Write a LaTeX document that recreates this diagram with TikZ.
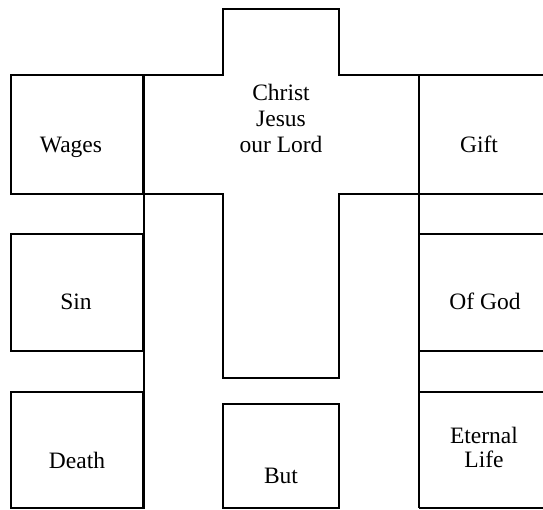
\documentclass[tikz,border=0pt]{standalone}
\usepackage{fontspec}
\setmainfont{Liberation Serif}
\usetikzlibrary{positioning}

\begin{document}
\begin{tikzpicture}[
    x=1pt, y=-1pt,
    % Box styles
    cell/.style={
        rectangle, draw=black, line width=1.8pt,
        minimum width=132pt, inner sep=0pt
    },
    % Text styles
    word/.style={
        font=\fontsize{23.5}{26}\selectfont, align=center,
        anchor=base, inner sep=0pt
    },
    edge/.style={line width=1.8pt, draw=black, line join=miter}
]
\useasboundingbox (0,0) rectangle (543,510);

% ==========================================
% CROSS
% ==========================================
\coordinate (ctl) at (223,9);
\coordinate (ctr) at (339,9);
\coordinate (cbl) at (223,378);
\coordinate (cbr) at (339,378);
\draw[edge] (143,75) -- (ctl |- 0,75) -- (ctl) -- (ctr) -- (ctr |- 0,75)
    -- (419,75) -- (419,194) -- (ctr |- 0,194) -- (cbr) -- (cbl)
    -- (cbl |- 0,194) -- (143,194) -- cycle;

% ==========================================
% LEFT COLUMN
% ==========================================
\node[cell, minimum height=119pt] (wagesbox) at (77,134.5) {};
\node[cell, minimum height=117pt] (sinbox) at (77,292.5) {};
\node[cell, minimum height=116pt] (deathbox) at (77,450) {};
\draw[edge] (wagesbox.north east) -- (deathbox.south east);

% ==========================================
% RIGHT COLUMN (open to the page edge)
% ==========================================
\coordinate (giftt) at (543,75);
\coordinate (giftb) at (543,194);
\coordinate (godt) at (543,234);
\coordinate (godb) at (543,351);
\coordinate (lifet) at (543,392);
\coordinate (lifeb) at (543,508);
\draw[edge] (419,75) -- (419,508);
\draw[edge] (419,75) -- (giftt);
\draw[edge] (419,194) -- (giftb);
\draw[edge] (419,234) -- (godt);
\draw[edge] (419,351) -- (godb);
\draw[edge] (419,392) -- (lifet);
\draw[edge] (419,508) -- (lifeb);

% --- Bottom of the stem ---
\node[cell, minimum width=116pt, minimum height=104pt] (butbox) at (281,456) {};

% ==========================================
% TEXTS (base = last line)
% ==========================================
\node[word] (wages) at (71,153) {Wages};
\node[word] (sin) at (76,310) {Sin};
\node[word] (death) at (77,468) {Death};
\node[word] (christ) at (281,153) {Christ\\Jesus\\our Lord};
\node[word] (but) at (281,483) {But};
\node[word] (gift) at (479,153) {Gift};
\node[word] (ofgod) at (485,310) {Of God};
\node[word, font=\fontsize{23.5}{24}\selectfont] (eternal) at (484,467) {Eternal\\Life};

\end{tikzpicture}
\end{document}
